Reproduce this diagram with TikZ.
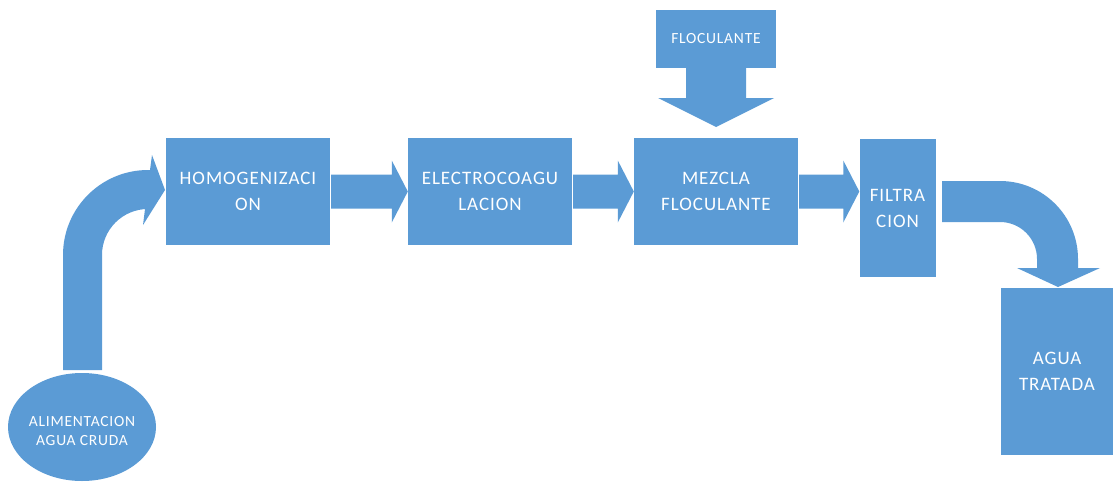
\documentclass[tikz,border=0pt]{standalone}
\usepackage{fontspec}
\setmainfont{Carlito}
\newfontfamily\boxfont[LetterSpace=5]{Carlito}
\usetikzlibrary{shapes.geometric,calc}
\definecolor{flowblue}{HTML}{5B9BD5}
\tikzset{
  flow/.style={fill=flowblue},
  stage/.style={flow, rectangle, inner sep=0pt, text=white, align=center,
    font=\boxfont\fontsize{19}{26}\selectfont},
}
% block arrow from the east side of one stage to the west side of the next
\newcommand{\linkarrow}[2]{%
  \fill[flow] let \p1=(#1.east), \p2=(#2.west) in
    (\x1+1pt,\y1+17pt) -- (\x2-16pt,\y1+17pt) -- (\x2-16pt,\y1+31pt) --
    (\x2,\y1) -- (\x2-16pt,\y1-31pt) -- (\x2-16pt,\y1-17pt) --
    (\x1+1pt,\y1-17pt) -- cycle;}
\begin{document}
\begin{tikzpicture}[x=1pt,y=-1pt]
\useasboundingbox (0,0) rectangle (1113,482);

% process stages
\node[stage, minimum width=164pt, minimum height=107pt] (hom) at (248,191.5)
  {HOMOGENIZACI\\ON};
\node[stage, minimum width=164pt, minimum height=107pt] (ele) at (490,191.5)
  {ELECTROCOAGU\\LACION};
\node[stage, minimum width=164pt, minimum height=107pt] (mez) at (716,191.5)
  {MEZCLA\\FLOCULANTE};
\node[stage, minimum width=76pt, minimum height=138pt] (fil) at (897.5,208)
  {FILTRA\\CION};
\node[stage, minimum width=112pt, minimum height=167pt] (agu) at (1057,371.5)
  {AGUA\\TRATADA};

% raw water feed, its caption sitting slightly below centre
\node[stage, ellipse, minimum width=148pt, minimum height=108pt,
  label={[text=white, align=center, yshift=-4pt,
          font=\boxfont\fontsize{15.5}{19}\selectfont]center:ALIMENTACION\\AGUA CRUDA}]
  (ali) at (82,427) {};

% flocculant dosing arrow
\node[stage, minimum width=120pt, minimum height=58pt,
  font=\boxfont\fontsize{15.5}{18}\selectfont] (flo) at (716,39) {FLOCULANTE};
\fill[flow] (686,67.5) -- (746,67.5) -- (746,98) -- (774,98) -- (716,127)
  -- (658,98) -- (686,98) -- cycle;

% straight links between stages
\linkarrow{hom}{ele}
\linkarrow{ele}{mez}
\linkarrow{mez}{fil}

% curved feed arrow into homogenization
\fill[flow] (63,370) -- (63,255)
  arc[start angle=180, end angle=90, radius=85pt] -- (150,170)
  -- (152,155) -- (165,190) -- (143,225) -- (145,209) -- (148,209)
  arc[start angle=90, end angle=180, radius=46pt] -- (102,370) -- cycle;

% curved outlet arrow to treated water
\fill[flow] (942,181) -- (1000,181)
  arc[start angle=90, end angle=0, radius=78pt] -- (1078,268)
  -- (1100,268) -- (1058,287) -- (1017,268) -- (1037,268) -- (1037,259)
  arc[start angle=0, end angle=90, radius=37pt] -- (942,222) -- cycle;
\end{tikzpicture}
\end{document}
